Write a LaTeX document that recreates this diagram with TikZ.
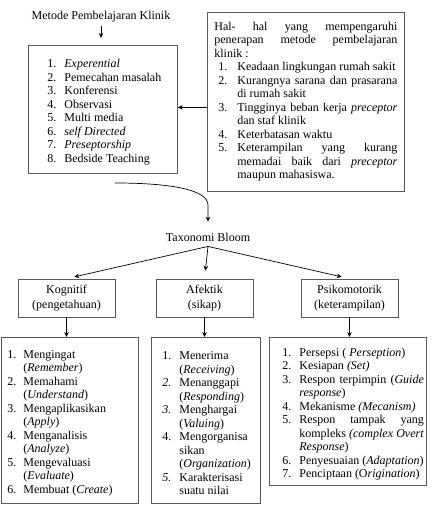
\documentclass[tikz,border=0pt]{standalone}
\usepackage{fontspec}
\setmainfont{Liberation Serif}
\usetikzlibrary{arrows.meta}
\newlength{\numw}
\newcommand{\itm}[2]{\par\noindent\hspace*{-\numw}\makebox[\numw][l]{#1}#2}
\tolerance=9999
\hyphenpenalty=10000
\exhyphenpenalty=10000
\tikzset{
  txt/.style={font=\fontsize{12}{13.5}\selectfont},
  listbox/.style={txt,draw=black!65,line width=0.7pt,anchor=north west,align=justify,inner xsep=3pt,inner ysep=0pt},
  catbox/.style={draw=black!65,line width=0.7pt,align=center,minimum width=97pt,minimum height=38pt,font=\fontsize{12}{14.5}\selectfont},
  link/.style={-{Stealth[length=5pt,width=4.5pt]},line width=0.7pt}
}

\begin{document}
\begin{tikzpicture}[x=1pt,y=-1pt]
\useasboundingbox (0,0) rectangle (432,522);
\node[txt] (metode) at (101,17) {Metode Pembelajaran Klinik};
\node[listbox,text width=143pt,minimum height=128pt] (metodelist) at (28,45) {\setlength{\numw}{17pt}\leftskip=33pt
  \itm{1.}{\textit{Experential}}
  \itm{2.}{Pemecahan masalah}
  \itm{3.}{Konferensi}
  \itm{4.}{Observasi}
  \itm{5.}{Multi media}
  \itm{6.}{\textit{self Directed}}
  \itm{7.}{\textit{Preseptorship}}
  \itm{8.}{Bedside Teaching}\par\vspace{8pt}};
\node[listbox,inner xsep=7pt,text width=183pt,minimum height=179pt] (faktor) at (207,12) {Hal- hal yang mempengaruhi penerapan metode pembelajaran klinik :\par
  \setlength{\numw}{19pt}\leftskip=23pt
  \itm{1.}{Keadaan lingkungan rumah sakit}
  \itm{2.}{Kurangnya sarana dan prasarana di rumah sakit}
  \itm{3.}{Tingginya beban kerja \textit{preceptor} dan staf klinik}
  \itm{4.}{Keterbatasan waktu}
  \itm{5.}{Keterampilan yang kurang memadai baik dari \textit{preceptor} maupun mahasiswa.}\par};
\node[txt,inner ysep=5pt] (taxo) at (208,237) {Taxonomi Bloom};

\node[catbox] (kog) at (66.5,298) {Kognitif\\(pengetahuan)};
\node[catbox] (afk) at (204.5,298) {Afektik\\(sikap)};
\node[catbox] (psi) at (349.5,298) {Psikomotorik\\(keterampilan)};

\node[listbox,text width=131pt,minimum height=166pt] (koglist) at (1,337) {\setlength{\numw}{16pt}\leftskip=19pt
  \itm{1.}{Mengingat\\(\textit{Remember})}
  \itm{2.}{Memahami\\(\textit{Understand})}
  \itm{3.}{Mengaplikasikan\\(\textit{Apply})}
  \itm{4.}{Menganalisis\\(\textit{Analyze})}
  \itm{5.}{Mengevaluasi\\(\textit{Evaluate})}
  \itm{6.}{Membuat (\textit{Create})}\par};
\node[listbox,text width=103pt,minimum height=166pt] (afklist) at (151,337) {\setlength{\numw}{17pt}\leftskip=25pt
  \itm{1.}{Menerima\\(\textit{Receiving})}
  \itm{\textit{2.}}{Menanggapi\\(\textit{Responding})}
  \itm{\textit{3.}}{Menghargai\\(\textit{Valuing})}
  \itm{4.}{Mengorganisa\\sikan\\(\textit{Organization})}
  \itm{\textit{5.}}{Karakterisasi\\suatu nilai}\par};
\node[listbox,inner xsep=2.5pt,text width=152pt,minimum height=148pt] (psilist) at (269,337) {\setlength{\numw}{17pt}\leftskip=27.5pt
  \itm{1.}{Persepsi ( \textit{Perseption})}
  \itm{2.}{Kesiapan \textit{(Set)}}
  \itm{3.}{Respon terpimpin (\textit{Guide}\linebreak\textit{response})}
  \itm{4.}{Mekanisme \textit{(Mecanism)}}
  \itm{5.}{Respon tampak yang\linebreak kompleks \textit{(complex Overt}\linebreak\textit{Response})}
  \itm{6.}{Penyesuaian (\textit{Adaptation})}
  \itm{7.}{Penciptaan (O\textit{rigination})}\par};

\coordinate (fk) at ([yshift=-5.5pt]faktor.west);
\coordinate (lengkung) at (115,183);
\coordinate (belok) at (208,205);
\draw[link,shorten >=7pt] (metode.south) -- (metode.south |- metodelist.north);
\draw[link] (fk) -- (fk -| metodelist.east);
\draw[link,shorten >=6pt] (lengkung) .. controls (172,183) and (208,190) .. (belok) -- (taxo.north);
\draw[link,shorten >=8pt] (taxo.south) -- (kog.north);
\draw[link,shorten >=8pt] (taxo.south) -- (afk.north);
\draw[link,shorten >=8pt] (taxo.south) -- (psi.north);
\draw[link] (kog.south) -- (kog.south |- koglist.north);
\draw[link] (afk.south) -- (afk.south |- afklist.north);
\draw[link] (psi.south) -- (psi.south |- psilist.north);
\end{tikzpicture}
\end{document}
